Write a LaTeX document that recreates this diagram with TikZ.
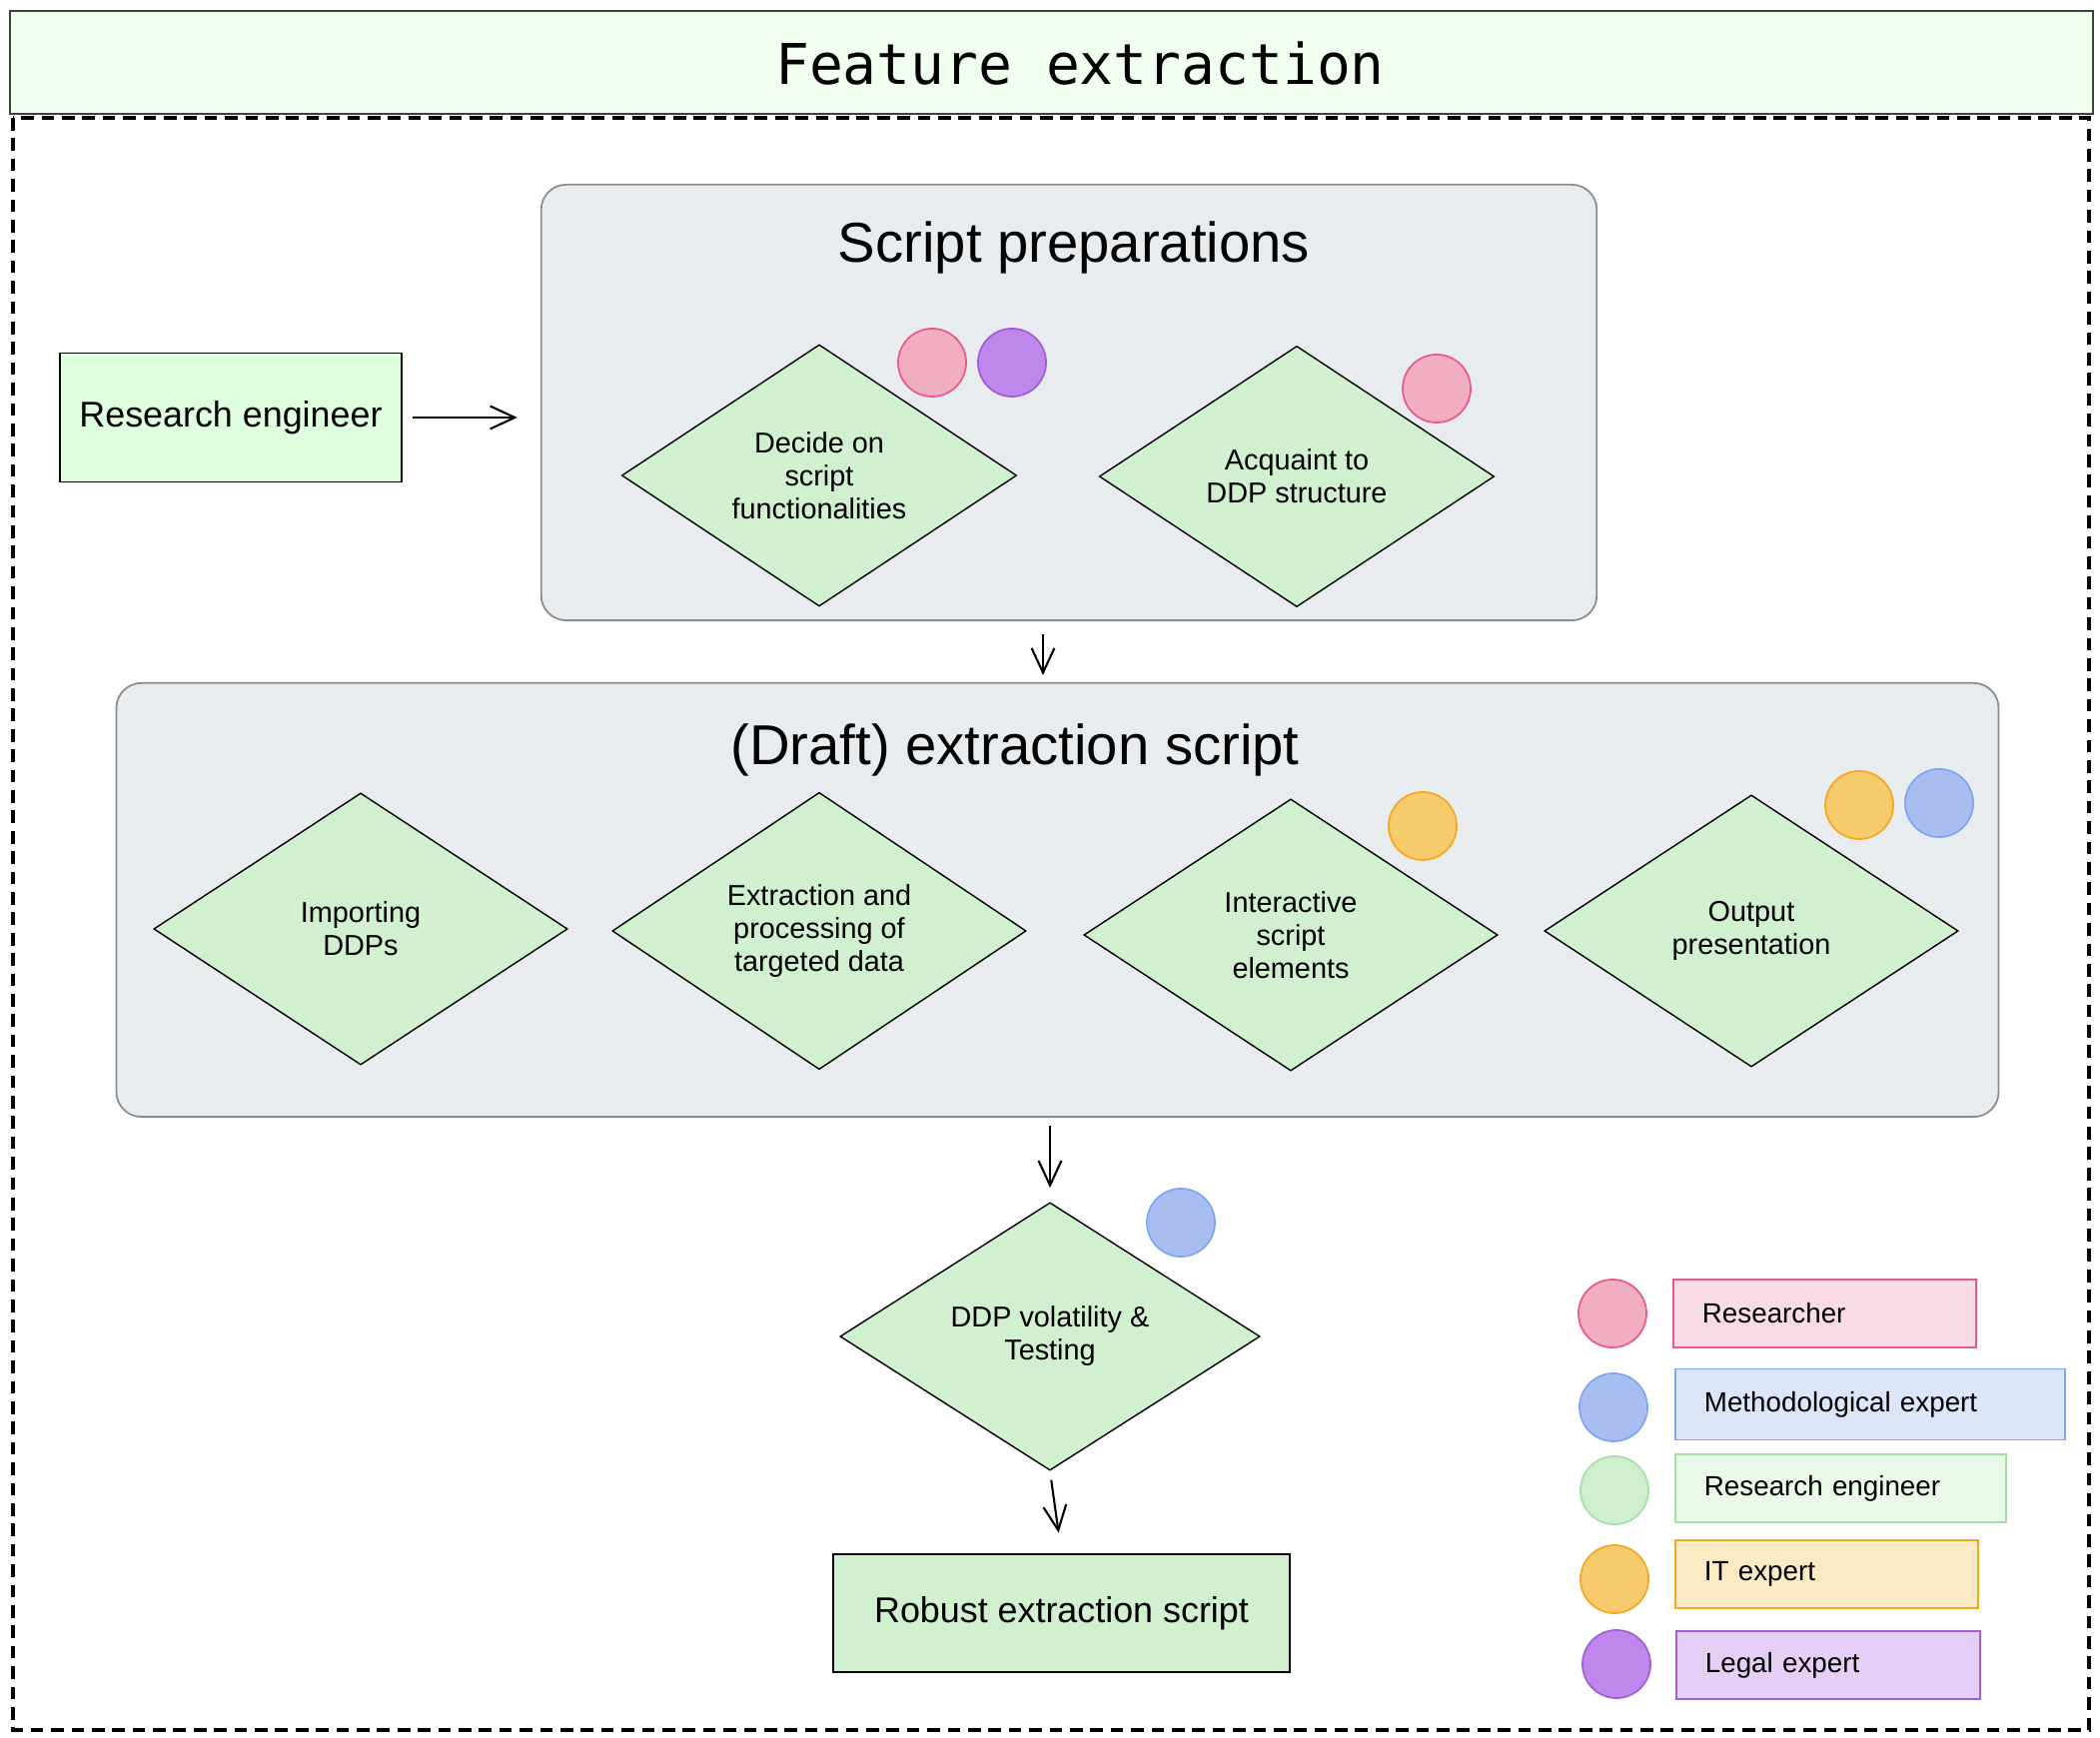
\documentclass[tikz,border=0pt]{standalone}
\usepackage{fontspec}
\setmainfont{Liberation Sans}
\newfontfamily\titlefont{DejaVu Sans Mono}
\usepackage{tikz}
\usetikzlibrary{calc,shapes.geometric,arrows.meta}
\definecolor{leafgreen}{RGB}{ 208, 240, 208 }
\definecolor{panelgray}{RGB}{ 233, 236, 239 }
\definecolor{pinkfill}{RGB}{ 240, 174, 192 }
\definecolor{pinkline}{RGB}{ 232, 90, 143 }
\definecolor{bluefill}{RGB}{ 169, 190, 240 }
\definecolor{blueline}{RGB}{ 127, 165, 245 }
\definecolor{greenfill}{RGB}{ 207, 239, 207 }
\definecolor{greenline}{RGB}{ 164, 223, 164 }
\definecolor{orangefill}{RGB}{ 245, 203, 107 }
\definecolor{orangeline}{RGB}{ 245, 166, 35 }
\definecolor{purplefill}{RGB}{ 191, 135, 235 }
\definecolor{purpleline}{RGB}{ 160, 95, 216 }
\begin{document}
\begin{tikzpicture}[x=0.01cm,y=-0.01cm,font=\fontsize{8.2}{9.4}\selectfont]
\tikzstyle{diamond node}=[diamond,draw,fill=leafgreen,line width=0.4pt,inner sep=0,minimum width=4.14cm,minimum height=2.72cm,align=center]
\tikzstyle{group}=[draw=black!45,fill=panelgray,rounded corners=0.25cm,line width=0.5pt]
\tikzstyle{heading}=[font=\fontsize{16}{19}\selectfont]
\tikzstyle{plain box}=[draw,fill=leafgreen,line width=0.4pt,font=\fontsize{10.2}{12}\selectfont]
\tikzstyle{role}=[circle,line width=0.5pt,minimum size=0.68cm,inner sep=0]
\tikzstyle{legend box}=[anchor=west,line width=0.5pt,minimum height=0.68cm,inner xsep=0.29cm,align=left,font=\fontsize{7.9}{9}\selectfont]
\tikzstyle{arr}=[-{Straight Barb[length=7pt,width=6.5pt]},line width=0.6pt]

\useasboundingbox (0,0) rectangle (2102,1740);

% title bar and frame
\node (title) [draw=black!75,fill=green!6,line width=0.6pt,minimum width=20.83cm,minimum height=1.03cm] at (1052.5,62.5) {};
\node (titletext) [font=\titlefont\fontsize{16}{19}\selectfont] at (1081,64) {Feature extraction};
\draw[line width=1.1pt,dash pattern=on 3.6pt off 2.2pt] (13,118) rectangle (2091,1732);

% script preparations
\node (prep) [group,minimum width=10.56cm,minimum height=4.36cm] at (1070,403) {};
\node (preptitle) [heading] at (1075,248) {Script preparations};
\node (d1) [diamond node,minimum width=3.95cm,minimum height=2.61cm] at (820,476) {Decide on\\script\\functionalities};
\node (d2) [diamond node,minimum width=3.95cm,minimum height=2.61cm] at (1298,477) {Acquaint to\\DDP structure};
\node (c1) [role,fill=pinkfill,draw=pinkline] at (933,363) {};
\node (c2) [role,fill=purplefill,draw=purpleline] at (1013,363) {};
\node (c3) [role,fill=pinkfill,draw=pinkline] at (1438,389) {};

\node (reseng) [plain box,fill=green!13,minimum width=3.42cm,minimum height=1.29cm] at (231,418) {Research engineer};

% draft extraction script
\node (draft) [group,minimum width=18.83cm,minimum height=4.34cm] at (1058.5,901) {};
\node (drafttitle) [heading] at (1016,751) {(Draft) extraction script};
\node (d3) [diamond node] at (361,930) {Importing\\DDPs};
\node (d4) [diamond node] at (820,932) {Extraction and\\processing of\\targeted data};
\node (d5) [diamond node] at (1292,936) {Interactive\\script\\elements};
\node (d6) [diamond node] at (1753,932) {Output\\presentation};
\node (c4) [role,fill=orangefill,draw=orangeline] at (1424,827) {};
\node (c5) [role,fill=orangefill,draw=orangeline] at (1861,806) {};
\node (c6) [role,fill=bluefill,draw=blueline] at (1941,804) {};

% testing and result
\node (d7) [diamond node,minimum width=4.2cm,minimum height=2.68cm] at (1051,1338) {DDP volatility \&\\Testing};
\node (c7) [role,fill=bluefill,draw=blueline] at (1182,1224) {};
\node (robust) [plain box,minimum width=4.57cm,minimum height=1.18cm] at (1062.5,1615) {Robust extraction script};

% arrows
\draw[arr,shorten <=0.1cm,shorten >=0.23cm] (reseng.east) -- (reseng.east -| prep.west);
\draw[arr,shorten <=0.13cm,shorten >=0.07cm] (prep.south -| 1044,0) -- (draft.north -| 1044,0);
\draw[arr,shorten <=0.08cm,shorten >=0.14cm] (draft.south -| d7.north) -- (d7.north);
\draw[arr,shorten <=0.09cm,shorten >=0.21cm] (d7.south) -- (robust.north);

% legend
\node (k1) [role,fill=pinkfill,draw=pinkline] at (1614,1315) {};
\node (k2) [role,fill=bluefill,draw=blueline] at (1615,1409) {};
\node (k3) [role,fill=greenfill,draw=greenline] at (1616,1492) {};
\node (k4) [role,fill=orangefill,draw=orangeline] at (1616,1581) {};
\node (k5) [role,fill=purplefill,draw=purpleline] at (1618,1666) {};
\node (l1) [legend box,draw=pinkline,fill=pinkfill!45,minimum width=3.03cm,text width=2.45cm] at (1674,1315) {Researcher};
\node (l2) [legend box,draw=blueline,fill=bluefill!40,minimum width=3.9cm,text width=3.32cm,minimum height=0.71cm] at (1676,1406) {Methodological expert};
\node (l3) [legend box,draw=greenline,fill=greenfill!45,minimum width=3.31cm,text width=2.73cm] at (1676,1490) {Research engineer};
\node (l4) [legend box,draw=orangeline,fill=orangefill!40,minimum width=3.03cm,text width=2.45cm] at (1676,1576) {IT expert};
\node (l5) [legend box,draw=purpleline,fill=purplefill!40,minimum width=3.04cm,text width=2.46cm] at (1677,1667) {Legal expert};

\end{tikzpicture}
\end{document}
